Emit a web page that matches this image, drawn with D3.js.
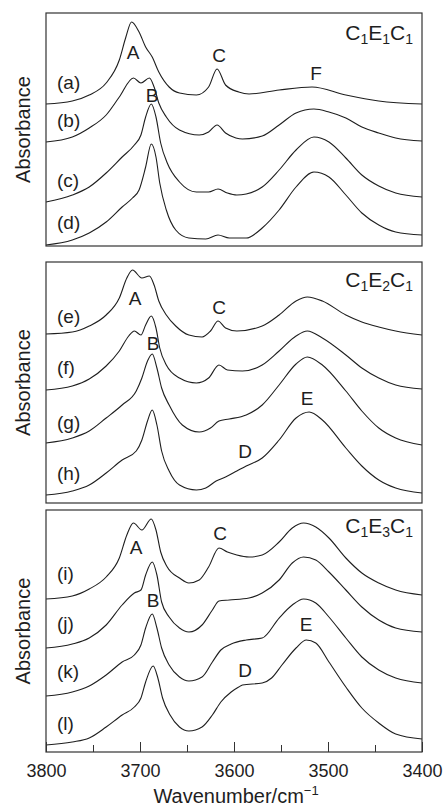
<!DOCTYPE html>
<html>
<head>
<meta charset="utf-8">
<script src="https://cdn.jsdelivr.net/npm/d3@7"></script>
<style>
  html, body { margin: 0; background: #fff; }
  svg { display: block; font-family: "Liberation Sans", Arial, Helvetica, sans-serif; }
</style>
</head>
<body>
<svg id="chart" width="446" height="807"></svg>
<script>
// IR spectra: [wavenumber (cm-1), absorbance (offset, a.u.)]
const specA = [[3800,1.42],[3772,1.45],[3754,1.51],[3736,1.63],[3722,1.86],[3715,2.09],[3709,2.24],[3701,2.14],[3694,1.99],[3687,1.89],[3680,1.74],[3669,1.59],[3658,1.53],[3640,1.51],[3627,1.59],[3618,1.77],[3609,1.61],[3595,1.54],[3584,1.52],[3552,1.56],[3517,1.59],[3481,1.51],[3446,1.45],[3400,1.42]];
const specB = [[3800,1.04],[3772,1.09],[3754,1.18],[3736,1.31],[3722,1.49],[3707,1.68],[3699,1.63],[3690,1.68],[3685,1.59],[3680,1.43],[3672,1.29],[3658,1.16],[3637,1.11],[3627,1.14],[3618,1.21],[3609,1.13],[3598,1.08],[3591,1.07],[3570,1.10],[3552,1.21],[3534,1.33],[3515,1.37],[3499,1.34],[3481,1.28],[3464,1.19],[3446,1.13],[3428,1.08],[3400,1.05]];
const specC = [[3800,0.44],[3772,0.51],[3754,0.59],[3736,0.73],[3719,0.89],[3706,1.01],[3699,1.11],[3694,1.29],[3688,1.42],[3683,1.29],[3678,1.03],[3671,0.83],[3658,0.64],[3640,0.54],[3627,0.54],[3617,0.57],[3607,0.53],[3597,0.51],[3587,0.52],[3570,0.59],[3552,0.76],[3534,0.96],[3515,1.09],[3499,1.04],[3481,0.88],[3464,0.71],[3446,0.60],[3428,0.53],[3400,0.49]];
const specD = [[3800,0.01],[3772,0.06],[3754,0.13],[3736,0.24],[3719,0.39],[3708,0.48],[3701,0.56],[3694,0.79],[3688,1.02],[3683,0.89],[3679,0.63],[3672,0.36],[3662,0.16],[3648,0.08],[3630,0.07],[3617,0.11],[3605,0.08],[3587,0.08],[3570,0.18],[3552,0.36],[3534,0.59],[3515,0.74],[3499,0.69],[3481,0.51],[3464,0.33],[3446,0.21],[3428,0.14],[3400,0.11]];

const specE = [[3800,1.69],[3772,1.71],[3754,1.77],[3736,1.88],[3722,2.05],[3714,2.25],[3708,2.33],[3698,2.25],[3690,2.27],[3685,2.18],[3680,2.02],[3672,1.88],[3662,1.77],[3648,1.68],[3634,1.66],[3625,1.72],[3617,1.82],[3609,1.75],[3597,1.72],[3570,1.77],[3552,1.88],[3534,2.02],[3522,2.06],[3506,2.02],[3481,1.88],[3464,1.81],[3446,1.76],[3428,1.72],[3400,1.68]];
const specF = [[3800,1.13],[3772,1.17],[3754,1.24],[3736,1.37],[3722,1.52],[3712,1.67],[3706,1.72],[3699,1.68],[3694,1.78],[3688,1.87],[3683,1.75],[3679,1.55],[3672,1.38],[3658,1.25],[3640,1.20],[3627,1.25],[3616,1.38],[3607,1.33],[3591,1.32],[3570,1.38],[3552,1.52],[3534,1.67],[3522,1.72],[3506,1.65],[3481,1.48],[3464,1.35],[3446,1.25],[3428,1.18],[3400,1.14]];
const specG = [[3800,0.60],[3772,0.65],[3754,0.72],[3736,0.85],[3719,0.98],[3704,1.12],[3698,1.25],[3692,1.42],[3687,1.49],[3682,1.35],[3677,1.15],[3669,0.98],[3655,0.78],[3637,0.71],[3625,0.75],[3616,0.82],[3605,0.84],[3587,0.88],[3570,0.98],[3552,1.18],[3534,1.39],[3522,1.46],[3506,1.38],[3481,1.12],[3464,0.92],[3446,0.75],[3428,0.65],[3400,0.58]];
const specH = [[3800,0.08],[3772,0.12],[3754,0.18],[3736,0.30],[3719,0.43],[3704,0.52],[3698,0.63],[3692,0.82],[3687,0.93],[3682,0.78],[3677,0.52],[3669,0.32],[3658,0.18],[3640,0.13],[3630,0.15],[3619,0.22],[3609,0.26],[3597,0.32],[3587,0.37],[3570,0.45],[3552,0.63],[3534,0.85],[3520,0.91],[3506,0.83],[3481,0.55],[3464,0.37],[3446,0.23],[3428,0.15],[3400,0.10]];

const specI = [[3800,1.53],[3772,1.56],[3754,1.63],[3736,1.75],[3722,1.94],[3714,2.17],[3707,2.29],[3698,2.22],[3688,2.33],[3683,2.22],[3678,2.00],[3671,1.85],[3658,1.74],[3648,1.69],[3637,1.72],[3627,1.85],[3616,2.04],[3607,2.00],[3597,1.97],[3584,1.95],[3570,1.97],[3552,2.10],[3538,2.24],[3526,2.29],[3513,2.25],[3499,2.14],[3481,1.94],[3464,1.79],[3446,1.69],[3428,1.62],[3400,1.57]];
const specJ = [[3800,1.04],[3772,1.08],[3754,1.14],[3736,1.27],[3719,1.47],[3706,1.59],[3699,1.62],[3694,1.77],[3687,1.90],[3682,1.77],[3677,1.50],[3669,1.35],[3658,1.24],[3648,1.20],[3634,1.27],[3623,1.42],[3616,1.51],[3605,1.52],[3584,1.54],[3570,1.59],[3552,1.72],[3538,1.89],[3526,1.95],[3513,1.92],[3499,1.80],[3481,1.62],[3464,1.45],[3446,1.32],[3428,1.24],[3400,1.20]];
const specK = [[3800,0.56],[3772,0.60],[3754,0.66],[3736,0.77],[3719,0.90],[3706,0.97],[3699,1.07],[3694,1.24],[3687,1.38],[3682,1.24],[3677,1.04],[3669,0.87],[3658,0.75],[3648,0.71],[3634,0.75],[3623,0.90],[3614,1.02],[3603,1.08],[3587,1.12],[3570,1.14],[3552,1.34],[3538,1.47],[3526,1.53],[3513,1.49],[3499,1.35],[3481,1.14],[3464,0.95],[3446,0.82],[3428,0.74],[3400,0.69]];
const specL = [[3800,0.07],[3772,0.10],[3754,0.14],[3736,0.25],[3719,0.37],[3706,0.45],[3699,0.54],[3694,0.70],[3686,0.86],[3681,0.74],[3676,0.54],[3668,0.37],[3658,0.25],[3648,0.21],[3634,0.25],[3623,0.37],[3614,0.50],[3603,0.60],[3595,0.65],[3591,0.67],[3570,0.69],[3560,0.74],[3549,0.87],[3534,1.04],[3523,1.12],[3513,1.09],[3499,0.90],[3481,0.65],[3464,0.44],[3446,0.29],[3428,0.18],[3400,0.13]];

const seriesNames = ["(a)","(b)","(c)","(d)","(e)","(f)","(g)","(h)","(i)","(j)","(k)","(l)"];
const panelTitles = [["C","1","E","1","C","1"],["C","1","E","2","C","1"],["C","1","E","3","C","1"]];
const xTicksMajor = [3800, 3700, 3600, 3500, 3400];
const xTicksMinor = [3750, 3650, 3550, 3450];
const xDomain = [3800, 3400];

(() => {
  const W = 446, H = 807;
  const svg = d3.select("#chart").attr("viewBox", `0 0 ${W} ${H}`);
  const ink = "#1e1e1e";

  const x = d3.scaleLinear().domain(xDomain).range([46, 422]);

  // panel boxes (pixel layout) + labels placed as in the figure
  const panels = [
    { top: 13, bottom: 246, data: [specA, specB, specC, specD], names: seriesNames.slice(0, 4),
      nameY: [82, 120, 180, 222], title: panelTitles[0], titleY: 40,
      peaks: [["A",133,52],["B",152,95],["C",219,55],["F",316,73]] },
    { top: 262, bottom: 503, data: [specE, specF, specG, specH], names: seriesNames.slice(4, 8),
      nameY: [316, 367, 422, 473], title: panelTitles[1], titleY: 287,
      peaks: [["A",135,298],["B",153,343],["C",219,307],["D",245,451],["E",307,398]] },
    { top: 510, bottom: 752, data: [specI, specJ, specK, specL], names: seriesNames.slice(8, 12),
      nameY: [573, 623, 671, 723], title: panelTitles[2], titleY: 533,
      peaks: [["A",136,547],["B",153,600],["C",220,533],["D",245,670],["E",306,624]] },
  ];

  panels.forEach((p, i) => {
    const y = d3.scaleLinear()
      .domain([0, (p.bottom - p.top) / 100])
      .range([p.bottom, p.top]);

    const g = svg.append("g");

    const line = d3.line()
      .x(d => x(d[0]))
      .y(d => y(d[1]))
      .curve(d3.curveMonotoneX);

    g.selectAll("path.spec")
      .data(p.data)
      .enter()
      .append("path")
      .attr("class", "spec")
      .attr("d", line)
      .attr("fill", "none")
      .attr("stroke", ink)
      .attr("stroke-width", 1.1);

    // frame
    g.append("rect")
      .attr("x", x(xDomain[0]))
      .attr("y", p.top)
      .attr("width", x(xDomain[1]) - x(xDomain[0]))
      .attr("height", p.bottom - p.top)
      .attr("fill", "none")
      .attr("stroke", "#333")
      .attr("stroke-width", 1.2);

    // series labels
    g.selectAll("text.name")
      .data(p.names)
      .enter()
      .append("text")
      .attr("class", "name")
      .attr("x", 57)
      .attr("y", (d, k) => p.nameY[k])
      .attr("dy", "0.35em")
      .attr("font-size", 19)
      .attr("fill", ink)
      .text(d => d);

    // band letters
    g.selectAll("text.peak")
      .data(p.peaks)
      .enter()
      .append("text")
      .attr("class", "peak")
      .attr("x", d => d[1])
      .attr("y", d => d[2])
      .attr("dy", "0.36em")
      .attr("text-anchor", "middle")
      .attr("font-size", 19)
      .attr("fill", ink)
      .text(d => d[0]);

    // compound name with subscripts
    const t = g.append("text")
      .attr("x", 413)
      .attr("y", p.titleY)
      .attr("dy", "0.36em")
      .attr("text-anchor", "end")
      .attr("font-size", 21)
      .attr("fill", ink);
    p.title.forEach((s, k) => {
      const sub = k % 2 === 1;
      t.append("tspan")
        .attr("font-size", sub ? 14 : 21)
        .attr("dy", sub ? 4 : (k > 0 ? -4 : 0))
        .text(s);
    });

    // y label
    svg.append("text")
      .attr("transform", `translate(23,${(p.top + p.bottom) / 2}) rotate(-90)`)
      .attr("text-anchor", "middle")
      .attr("dy", "0.36em")
      .attr("font-size", 20)
      .attr("fill", ink)
      .text("Absorbance");

    if (i === panels.length - 1) {
      // inward ticks on the bottom axis
      svg.append("g")
        .attr("transform", `translate(0,${p.bottom})`)
        .call(d3.axisBottom(x).tickValues(xTicksMinor).tickSize(-7).tickFormat(""))
        .call(s => s.select(".domain").remove())
        .call(s => s.selectAll("line").attr("stroke", "#333"));

      svg.append("g")
        .attr("transform", `translate(0,${p.bottom})`)
        .call(d3.axisBottom(x).tickValues(xTicksMajor).tickSize(-10).tickPadding(12).tickFormat(d3.format("d")))
        .call(s => s.select(".domain").remove())
        .call(s => s.selectAll("line").attr("stroke", "#333"))
        .call(s => s.selectAll("text")
          .attr("font-size", 18)
          .attr("font-family", "\"Liberation Sans\", Arial, sans-serif")
          .attr("fill", ink));

      const xl = svg.append("text")
        .attr("x", 236)
        .attr("y", 803)
        .attr("text-anchor", "middle")
        .attr("font-size", 20)
        .attr("fill", ink);
      xl.append("tspan").text("Wavenumber/cm");
      xl.append("tspan").attr("font-size", 13).attr("dy", -8).text("\u22121");
    }
  });
})();
</script>
</body>
</html>
